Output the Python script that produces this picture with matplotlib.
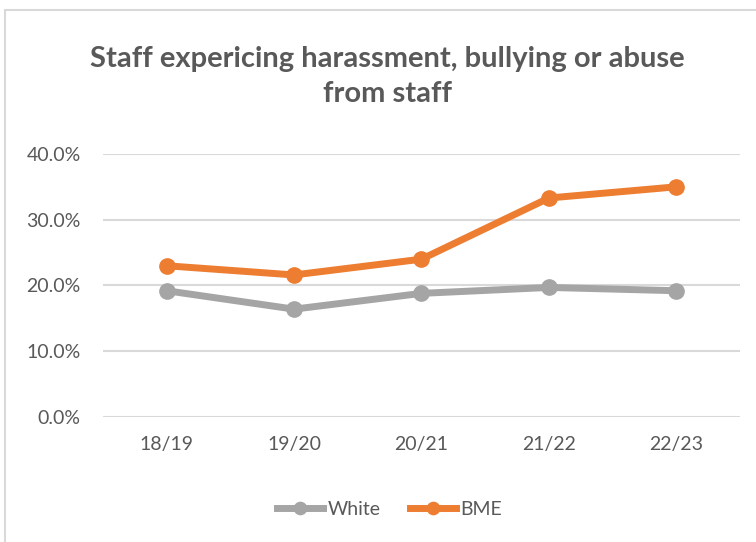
import matplotlib.pyplot as plt
from matplotlib.patches import Rectangle
from matplotlib.ticker import PercentFormatter

years = ["18/19", "19/20", "20/21", "21/22", "22/23"]
white = [19.2, 16.4, 18.8, 19.7, 19.2]
bme = [23.0, 21.6, 24.0, 33.3, 35.0]

plt.rcParams['font.family'] = ['Lato', 'DejaVu Sans']

fig = plt.figure(figsize=(7.56, 5.42), dpi=100)
ax = fig.add_axes([0.136, 0.2306, 0.843, 0.4854])

# outer chart frame
fig.patches.append(Rectangle((5/756, -0.1), 1.2, 1 - 10/542 + 0.1, transform=fig.transFigure,
                             fill=False, edgecolor='#d9d9d9', linewidth=1.5))

x = range(len(years))
ax.plot(x, white, color='#a5a5a5', linewidth=5, marker='o', markersize=11, label='White')
ax.plot(x, bme, color='#ed7d31', linewidth=5, marker='o', markersize=11, label='BME')

ax.set_ylim(0, 40)
ax.set_xlim(-0.5, len(years) - 0.5)
ax.set_yticks([0, 10, 20, 30, 40])
ax.yaxis.set_major_formatter(PercentFormatter(decimals=1))
ax.set_xticks(list(x))
ax.set_xticklabels(years)
ax.grid(axis='y', color='#d9d9d9', linewidth=1.5)
ax.set_axisbelow(True)
for s in ax.spines.values():
	s.set_visible(False)
ax.tick_params(length=0, colors='#595959', labelsize=14)
ax.tick_params(axis='y', pad=16)
ax.tick_params(axis='x', pad=14)

fig.text(0.512, 0.859, "Staff expericing harassment, bullying or abuse\nfrom staff", ha='center', va='center',
         fontsize=21, fontweight='bold', color='#595959', linespacing=1.45)

fig.legend(loc='center', bbox_to_anchor=(0.515, 0.06), ncol=2, frameon=False, fontsize=14,
           labelcolor='#595959', handlelength=2.4, columnspacing=1.5, handletextpad=0.2, markerscale=0.8)

fig.savefig('out.png', dpi=100)
